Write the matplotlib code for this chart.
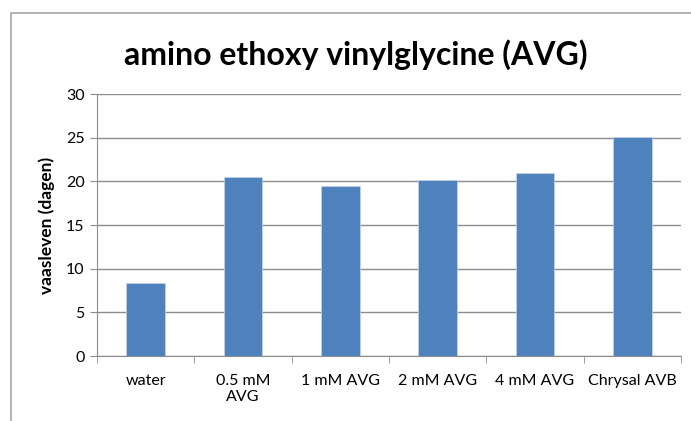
import matplotlib
matplotlib.use('Agg')
from matplotlib import pyplot as plt
from matplotlib.lines import Line2D

categories = ['water', '0.5 mM\nAVG', '1 mM AVG', '2 mM AVG', '4 mM AVG', 'Chrysal AVB']
lifetimes = [8.4, 20.5, 19.5, 20.2, 20.9, 25.1]
y_ticks = [0, 5, 10, 15, 20, 25, 30]

plt.rcParams['font.family'] = ['Lato', 'DejaVu Sans']

fig = plt.figure(figsize=(6.91, 4.21), dpi=100)
ax = fig.add_axes([97 / 691, 65 / 421, 584 / 691, 262 / 421])

# chart frame (partly cropped in the original)
fig.add_artist(Line2D([11 / 691, 11 / 691, 1.0], [0.0, 1 - 13 / 421, 1 - 13 / 421],
                      transform=fig.transFigure, color='#a6a6a6', lw=1.2))

x = list(range(len(categories)))
ax.bar(x, lifetimes, width=0.4, color='#4f81bd', edgecolor='#c5d5ea', linewidth=0.5, zorder=3)

ax.set_xlim(-0.5, len(categories) - 0.5)
ax.set_ylim(0, 30)
ax.set_yticks(y_ticks)
ax.yaxis.grid(True, color='#8c8c8c', linewidth=1.0, zorder=0)

ax.set_xticks(x)
ax.set_xticklabels(categories, fontsize=11.5, linespacing=1.2)
ax.set_xticks([i - 0.5 for i in range(len(categories) + 1)], minor=True)
ax.tick_params(axis='x', which='major', length=0, pad=13)
ax.tick_params(axis='x', which='minor', length=5, color='#8c8c8c', direction='out')
ax.tick_params(axis='y', length=5, color='#8c8c8c', labelsize=11.5, pad=4)

for side in ['top', 'right']:
    ax.spines[side].set_visible(False)
for side in ['left', 'bottom']:
    ax.spines[side].set_color('#8c8c8c')

ax.set_ylabel('vaasleven (dagen)', fontsize=12.5, fontweight='bold')
ax.yaxis.set_label_coords(-42 / 584, 0.5)
fig.text(356 / 691, 1 - 55 / 421, 'amino ethoxy vinylglycine (AVG)', fontsize=23,
         fontweight='bold', ha='center', va='center')

fig.savefig('out.png', dpi=100)
